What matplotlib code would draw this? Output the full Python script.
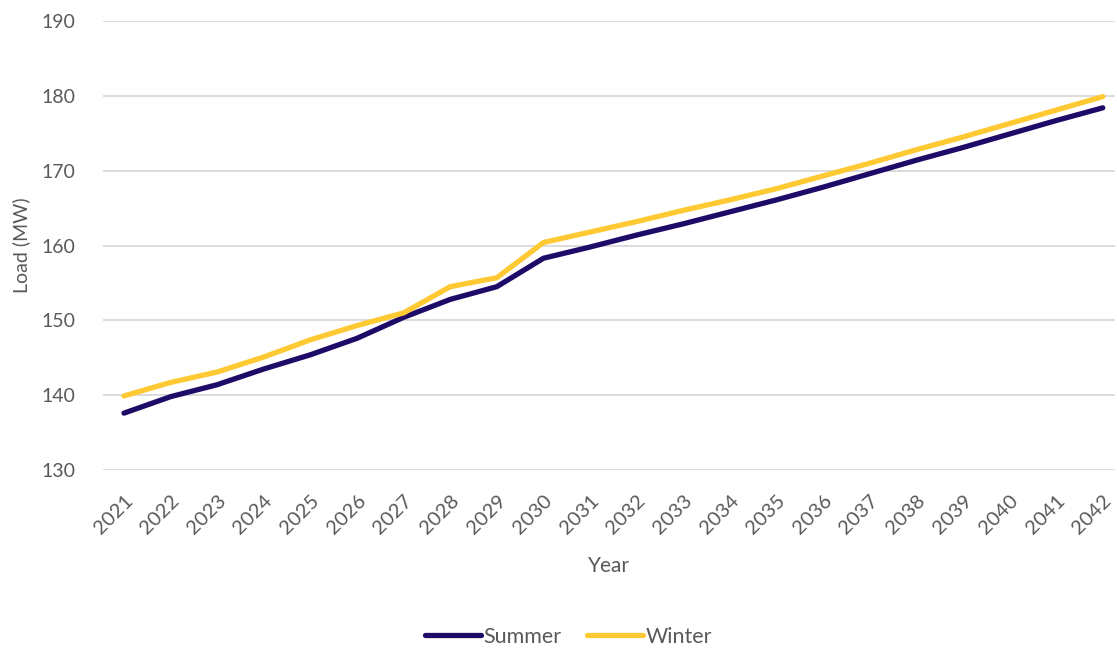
import matplotlib.pyplot as plt

years = list(range(2021, 2043))
summer = [137.6, 139.8, 141.4, 143.5, 145.4, 147.6, 150.4, 152.8, 154.5, 158.3,
          159.8, 161.4, 162.9, 164.5, 166.1, 167.8, 169.6, 171.4, 173.1, 174.9,
          176.7, 178.4]
winter = [139.9, 141.7, 143.1, 145.1, 147.4, 149.3, 151.0, 154.5, 155.7, 160.4,
          161.8, 163.2, 164.7, 166.1, 167.6, 169.3, 171.0, 172.8, 174.5, 176.3,
          178.1, 179.9]
yticks = [130, 140, 150, 160, 170, 180, 190]

plt.rcParams['font.family'] = ['Lato', 'DejaVu Sans']
grey = '#595959'

fig = plt.figure(figsize=(11.17, 6.49), dpi=100)
ax = fig.add_axes([0.0922, 0.2758, 0.9058, 0.6918])

ax.plot(years, summer, color='#1E0B68', lw=3.8, solid_capstyle='round', label='Summer', zorder=3)
ax.plot(years, winter, color='#FFC933', lw=3.8, solid_capstyle='round', label='Winter', zorder=3)

ax.set_ylim(130, 190)
ax.set_yticks(yticks)
ax.set_xlim(2021 - 21 / 46.62, 2042 + 12 / 46.62)
ax.set_xticks(years)
ax.set_xticklabels([str(y) for y in years], rotation=45, ha='right',
                   rotation_mode='anchor', fontsize=14.5, color=grey)
ax.tick_params(axis='y', labelsize=14, colors=grey, length=0, pad=20)
ax.tick_params(axis='x', length=0, pad=16)
ax.grid(axis='y', color='#D9D9D9', lw=1.3)
ax.set_axisbelow(True)
for s in ax.spines.values():
    s.set_visible(False)

ax.set_ylabel('Load (MW)', fontsize=14, color=grey, labelpad=8)
ax.set_xlabel('Year', fontsize=15, color=grey, labelpad=13)

fig.legend(loc='center', bbox_to_anchor=(0.509, 0.019), ncol=2, frameon=False,
           fontsize=15.5, labelcolor=grey, handlelength=2.6, handletextpad=0.1,
           columnspacing=1.2)

fig.savefig('out.png', dpi=100)
